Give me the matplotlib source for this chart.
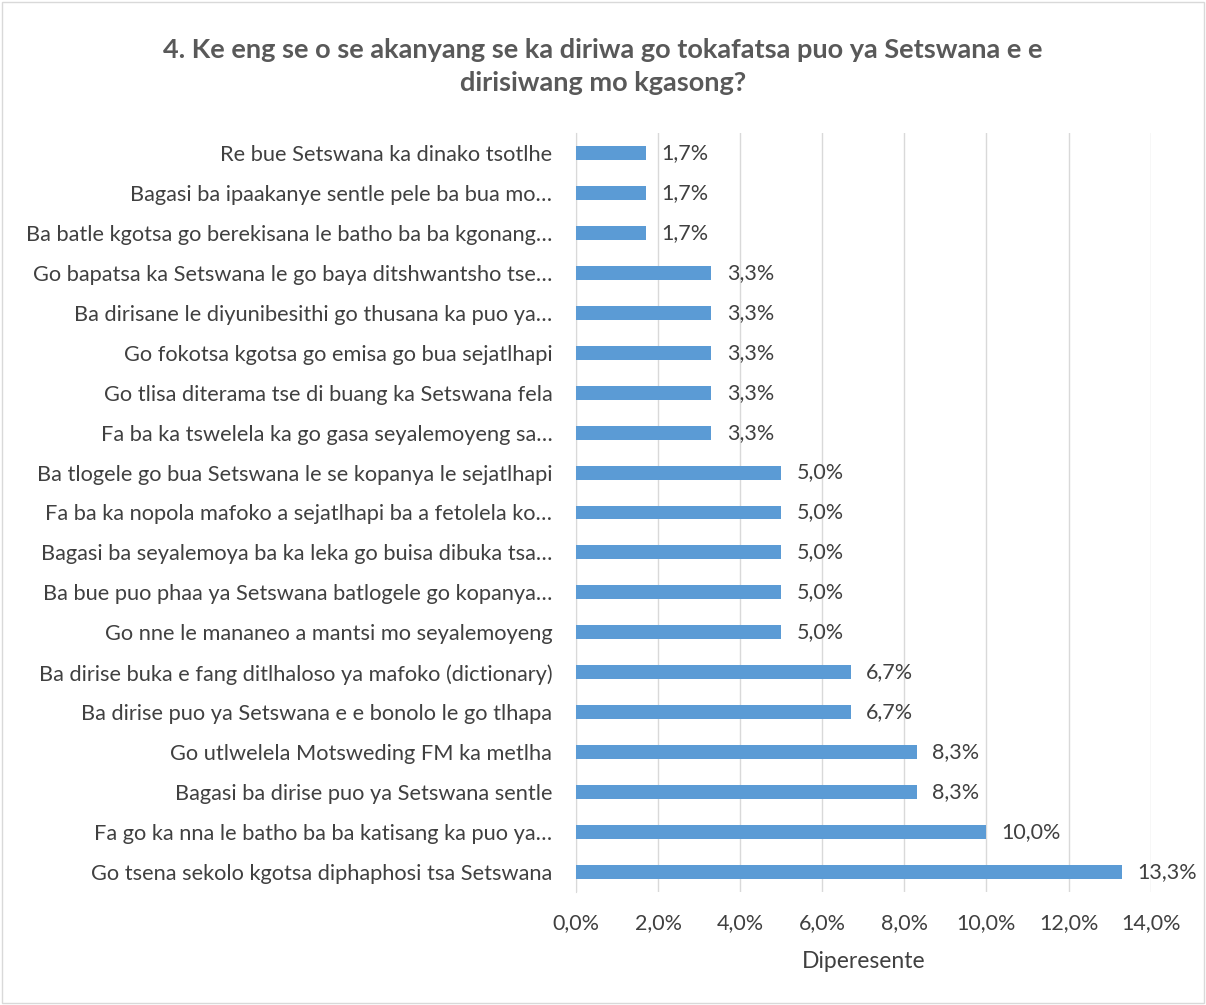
import matplotlib.pyplot as plt
from matplotlib.patches import Rectangle

plt.rcParams['font.family'] = ['Lato', 'DejaVu Sans']

labels = [
    "Re bue Setswana ka dinako tsotlhe",
    "Bagasi ba ipaakanye sentle pele ba bua mo…",
    "Ba batle kgotsa go berekisana le batho ba ba kgonang…",
    "Go bapatsa ka Setswana le go baya ditshwantsho tse…",
    "Ba dirisane le diyunibesithi go thusana ka puo ya…",
    "Go fokotsa kgotsa go emisa go bua sejatlhapi",
    "Go tlisa diterama tse di buang ka Setswana fela",
    "Fa ba ka tswelela ka go gasa seyalemoyeng sa…",
    "Ba tlogele go bua Setswana le se kopanya le sejatlhapi",
    "Fa ba ka nopola mafoko a sejatlhapi ba a fetolela ko…",
    "Bagasi ba seyalemoya ba ka leka go buisa dibuka tsa…",
    "Ba bue puo phaa ya Setswana batlogele go kopanya…",
    "Go nne le mananeo a mantsi mo seyalemoyeng",
    "Ba dirise buka e fang ditlhaloso ya mafoko (dictionary)",
    "Ba dirise puo ya Setswana e e bonolo le go tlhapa",
    "Go utlwelela Motsweding FM ka metlha",
    "Bagasi ba dirise puo ya Setswana sentle",
    "Fa go ka nna le batho ba ba katisang ka puo ya…",
    "Go tsena sekolo kgotsa diphaphosi tsa Setswana",
]
values = [1.7, 1.7, 1.7, 3.3, 3.3, 3.3, 3.3, 3.3, 5.0, 5.0, 5.0, 5.0, 5.0,
          6.7, 6.7, 8.3, 8.3, 10.0, 13.3]
ticks = [0, 2, 4, 6, 8, 10, 12, 14]

fig = plt.figure(figsize=(12.06, 10.05), dpi=100)
fig.patches.append(Rectangle((0.002, 0.002), 0.996, 0.996, transform=fig.transFigure,
                             fill=False, edgecolor='#d9d9d9', linewidth=1))
ax = fig.add_axes([0.4776, 0.1124, 0.4765, 0.7553])

y = list(range(len(values)))
ax.barh(y, values, height=0.35, color='#5b9bd5', zorder=3)
for yi, v in zip(y, values):
    ax.text(v + 0.37, yi, f"{v:.1f}%".replace('.', ','), va='center', ha='left',
            fontsize=15.5, color='#404040')

ax.set_ylim(len(values) - 0.5, -0.5)
ax.set_xlim(0, 14)
ax.set_xticks(ticks)
ax.set_xticklabels([f"{t:.1f}%".replace('.', ',') for t in ticks])
ax.set_yticks(y)
ax.set_yticklabels(labels)
ax.tick_params(axis='x', length=0, labelsize=15.5, labelcolor='#404040', pad=15)
ax.tick_params(axis='y', length=0, labelsize=15.7, labelcolor='#404040', pad=17)
ax.grid(axis='x', color='#d9d9d9', linewidth=1, zorder=0)
for s in ['top', 'right', 'bottom']:
    ax.spines[s].set_visible(False)
ax.spines['left'].set_color('#d9d9d9')
ax.set_xlabel("Diperesente", fontsize=16.5, color='#404040', labelpad=13)

fig.text(0.5, 0.934, "4. Ke eng se o se akanyang se ka diriwa go tokafatsa puo ya Setswana e e\ndirisiwang mo kgasong?",
         ha='center', va='center', fontsize=19.5, fontweight='bold', color='#595959',
         linespacing=1.45)

fig.savefig('out.png', dpi=100)
